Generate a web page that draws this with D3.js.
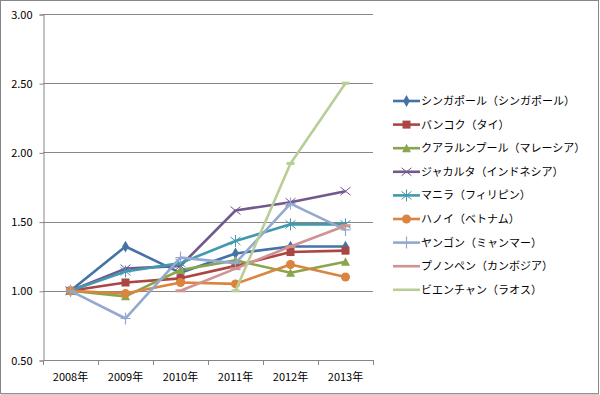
<!DOCTYPE html>
<html>
<head>
<meta charset="UTF-8" />
<script src="https://d3js.org/d3.v7.min.js"></script>
<style>
  body { margin: 0; background: #fff; }
  svg text { font-family: "Noto Sans CJK JP", "Noto Sans", sans-serif; fill: #000; }
</style>
</head>
<body>
<div id="chart"></div>
<script>
// categories and tick labels
var years = ["2008年", "2009年", "2010年", "2011年", "2012年", "2013年"];
var yTicks = [0.5, 1.0, 1.5, 2.0, 2.5, 3.0];

// series values (index 2008 = 1.00)
var singapore = [1.00, 1.32, 1.13, 1.27, 1.32, 1.32];
var bangkok   = [1.00, 1.06, 1.09, 1.18, 1.28, 1.29];
var kualaLumpur = [1.00, 0.96, 1.15, 1.22, 1.13, 1.21];
var jakarta   = [1.00, 1.16, 1.18, 1.58, 1.64, 1.72];
var manila    = [1.00, 1.14, 1.20, 1.36, 1.48, 1.48];
var hanoi     = [1.00, 0.98, 1.06, 1.05, 1.19, 1.10];
var yangon    = [1.00, 0.80, 1.24, 1.20, 1.63, 1.44];
var phnomPenh = [null, null, 1.00, 1.16, 1.32, 1.47];
var vientiane = [null, null, null, 1.00, 1.92, 2.50];

var names = ["シンガポール（シンガポール）", "バンコク（タイ）", "クアラルンプール（マレーシア）",
  "ジャカルタ（インドネシア）", "マニラ（フィリピン）", "ハノイ（ベトナム）",
  "ヤンゴン（ミャンマー）", "プノンペン（カンボジア）", "ビエンチャン（ラオス）"];
var colors = ["#4572A7", "#AA4643", "#89A54E", "#71588F", "#4198AF", "#DB843D", "#93A9CF", "#D19392", "#B9CD96"];
var markers = ["diamond", "square", "triangle", "x", "star", "circle", "plus", "longdash", "dash"];

var series = [singapore, bangkok, kualaLumpur, jakarta, manila, hanoi, yangon, phnomPenh, vientiane]
  .map(function(v, i) { return { name: names[i], values: v, color: colors[i], marker: markers[i] }; });

var W = 600, H = 395;
var plot = { left: 43, right: 373, top: 14, bottom: 360 };

var svg = d3.select("#chart").append("svg")
  .attr("width", W).attr("height", H);

// outer frame
svg.append("rect")
  .attr("x", 0.5).attr("y", 0.5).attr("width", W - 2).attr("height", H - 2)
  .attr("fill", "#fff").attr("stroke", "#868686");
svg.append("line")
  .attr("x1", 1).attr("x2", W - 1).attr("y1", H - 1).attr("y2", H - 1)
  .attr("stroke", "#a0a0a0");

var x = d3.scaleBand().domain(years).range([plot.left, plot.right]);
var y = d3.scaleLinear().domain([0.5, 3.0]).range([plot.bottom, plot.top]);

// gridlines
svg.append("g").selectAll("line")
  .data(yTicks.filter(function(t) { return t > 0.5; }))
  .enter().append("line")
    .attr("x1", plot.left).attr("x2", plot.right)
    .attr("y1", function(d) { return Math.round(y(d)) + 0.5; })
    .attr("y2", function(d) { return Math.round(y(d)) + 0.5; })
    .attr("stroke", "#868686");

// y axis
var yAxis = svg.append("g")
  .attr("transform", "translate(" + (plot.left + 0.5) + ",0.5)")
  .call(d3.axisLeft(y).tickValues(yTicks).tickFormat(d3.format(".2f")).tickSize(4).tickPadding(7));
yAxis.select(".domain").attr("stroke", "#868686");
yAxis.selectAll(".tick line").attr("stroke", "#868686");
yAxis.selectAll("text").attr("font-size", 11).attr("fill", "#000");

// x axis with ticks between categories
var xAxisG = svg.append("g");
xAxisG.append("line")
  .attr("x1", plot.left).attr("x2", plot.right)
  .attr("y1", plot.bottom + 0.5).attr("y2", plot.bottom + 0.5)
  .attr("stroke", "#868686");
var edges = years.map(function(d) { return x(d); }).concat([plot.right]);
xAxisG.selectAll(".tk").data(edges).enter().append("line")
  .attr("x1", function(d) { return Math.round(d) + 0.5; })
  .attr("x2", function(d) { return Math.round(d) + 0.5; })
  .attr("y1", plot.bottom).attr("y2", plot.bottom + 5)
  .attr("stroke", "#868686");
xAxisG.selectAll("text").data(years).enter().append("text")
  .attr("x", function(d) { return x(d) + x.bandwidth() / 2; })
  .attr("y", plot.bottom + 21)
  .attr("text-anchor", "middle")
  .attr("font-size", 11)
  .text(function(d) { return d; });

var line = d3.line()
  .defined(function(d) { return d != null; })
  .x(function(d, i) { return x(years[i]) + x.bandwidth() / 2; })
  .y(function(d) { return y(d); });

function drawMarker(g, type, color) {
  var s;
  if (type === "diamond") {
    g.append("path").attr("d", d3.symbol().type(d3.symbolDiamond).size(40)).attr("fill", color);
  } else if (type === "square") {
    g.append("rect").attr("x", -4).attr("y", -4).attr("width", 8).attr("height", 8).attr("fill", color);
  } else if (type === "triangle") {
    g.append("path").attr("d", "M0,-4.5L4.5,4L-4.5,4Z").attr("fill", color);
  } else if (type === "circle") {
    g.append("circle").attr("r", 4.5).attr("fill", color);
  } else if (type === "x") {
    g.append("path").attr("d", "M-5,-4L5,4M-5,4L5,-4").attr("stroke", color).attr("stroke-width", 1);
  } else if (type === "star") {
    g.append("path").attr("d", "M-5,-4L5,4M-5,4L5,-4M0,-6L0,6").attr("stroke", color).attr("stroke-width", 1);
  } else if (type === "plus") {
    g.append("path").attr("d", "M-5,0L5,0M0,-6L0,6").attr("stroke", color).attr("stroke-width", 1.2);
  } else if (type === "dash") {
    g.append("rect").attr("x", -4).attr("y", -1.5).attr("width", 8).attr("height", 3).attr("fill", color);
  } else if (type === "longdash") {
    g.append("rect").attr("x", -5).attr("y", -1.5).attr("width", 10).attr("height", 3).attr("fill", color);
  }
}

// series lines and markers
series.forEach(function(s) {
  var g = svg.append("g");
  g.append("path")
    .attr("d", line(s.values))
    .attr("fill", "none")
    .attr("stroke", s.color)
    .attr("stroke-width", 2.6)
    .attr("stroke-linejoin", "round");
  s.values.forEach(function(v, i) {
    if (v == null) return;
    var m = g.append("g")
      .attr("transform", "translate(" + (x(years[i]) + x.bandwidth() / 2) + "," + y(v) + ")");
    drawMarker(m, s.marker, s.color);
  });
});

// legend
var legend = svg.append("g").attr("transform", "translate(393,101)");
series.forEach(function(s, i) {
  var g = legend.append("g").attr("transform", "translate(0," + (i * 23.6) + ")");
  g.append("line").attr("x1", 0).attr("x2", 27).attr("y1", 0).attr("y2", 0)
    .attr("stroke", s.color).attr("stroke-width", 2.6);
  var m = g.append("g").attr("transform", "translate(13.5,0)");
  if (s.marker !== "longdash" && s.marker !== "dash") drawMarker(m, s.marker, s.color);
  g.append("text").attr("x", 28).attr("y", 0).attr("dy", "0.36em")
    .attr("font-size", 11)
    .text(s.name);
});
</script>
</body>
</html>
